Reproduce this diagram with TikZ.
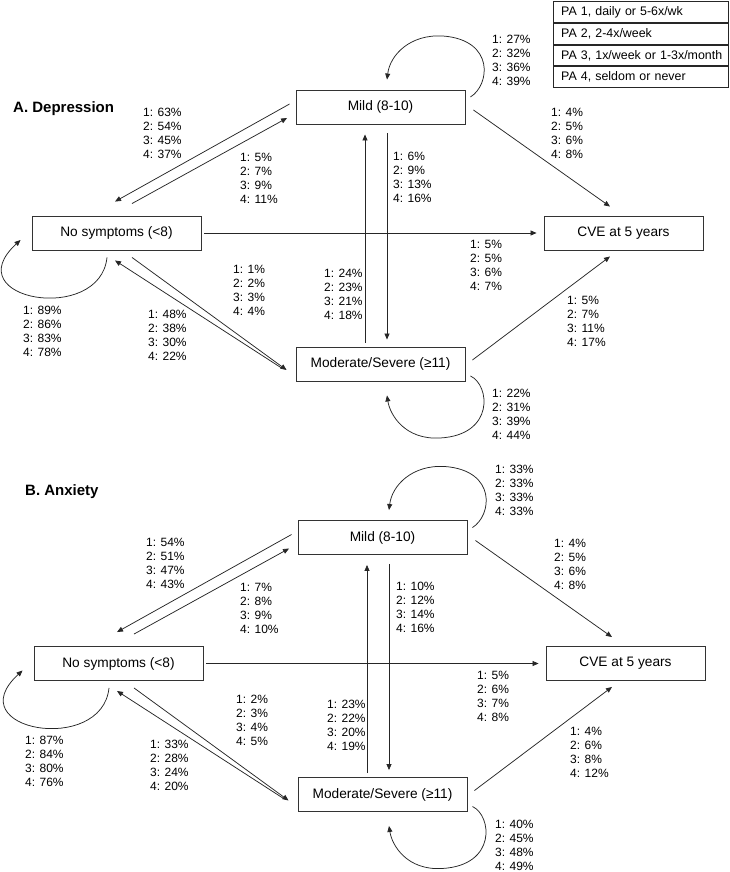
\documentclass[tikz,border=0pt]{standalone}
\usepackage{fontspec}
\setmainfont{Liberation Sans}
\usetikzlibrary{arrows.meta,calc}
\tikzset{
 box/.style={draw=black!80, line width=0.9pt, minimum width=169pt, minimum height=34pt, inner sep=0pt, font=\fontsize{13.7}{16}\selectfont},
 arr/.style={draw=black!85, line width=0.75pt, -{Triangle[length=6pt,width=5pt]}},
 lbl/.style={anchor=north west, inner sep=0pt, align=left, font=\fontsize{12}{14.2}\selectfont},
 ttl/.style={anchor=base west, inner sep=0pt, font=\fontsize{15}{18}\selectfont\bfseries},
 leg/.style={draw=black!85, line width=0.9pt, anchor=north west, minimum width=175pt, minimum height=20.9pt, text width=171pt, inner xsep=2pt, inner ysep=0pt, align=left, font=\fontsize{12.4}{14}\selectfont},
}
\newcommand\panel[1]{%
 \node[box] (m#1) at (380.5,107) {Mild (8-10)};
 \node[box] (n#1) at (116.5,233) {No symptoms (<8)};
 \node[box,minimum width=159pt] (c#1) at (623.5,233) {CVE at 5 years};
 \node[box] (s#1) at (380.5,364) {Moderate/Severe (≥11)};
 % Mild <-> No symptoms
 \draw[arr] ([shift={(-6,-3)}]m#1.west) -- ([shift={(-1.5,-14)}]n#1.north);
 \draw[arr] ([shift={(15.5,-12)}]n#1.north) -- ([shift={(-8.5,11)}]m#1.west);
 % Mild loop
 \draw[arr] ([shift={(5,-10)}]m#1.east) .. controls (490,85) and (495,40) .. (443,36) .. controls (410,34) and (390,55) .. ([shift={(6.5,-10)}]m#1.north);
 % Mild -> CVE
 \draw[arr] ([shift={(8,3)}]m#1.east) -- ([shift={(-13.5,-9)}]c#1.north);
 % Mild <-> Moderate
 \draw[arr] ([shift={(6.5,9)}]m#1.south) -- ([shift={(6.5,-7)}]s#1.north);
 \draw[arr] ([shift={(-15.5,-4)}]s#1.north) -- ([shift={(-15.5,10)}]m#1.south);
 % No symptoms -> CVE
 \draw[arr] ([shift={(3,0)}]n#1.east) -- ([shift={(-7,0)}]c#1.west);
 % No symptoms <-> Moderate
 \draw[arr] ([shift={(15.5,7)}]n#1.south) -- ([shift={(-9,6)}]s#1.west);
 \draw[arr] ([shift={(-14,4)}]s#1.west) -- ([shift={(-1.5,10)}]n#1.south);
 % No symptoms loop
 \draw[arr] ([shift={(-9.5,7)}]n#1.south) .. controls (100,325) and (-45,300) .. ([shift={(-11,7)}]n#1.west);
 % Moderate -> CVE
 \draw[arr] ([shift={(7,-4)}]s#1.east) -- ([shift={(-13.5,6)}]c#1.south);
 % Moderate loop
 \draw[arr] ([shift={(5,12)}]s#1.east) .. controls (490,385) and (495,435) .. (440,438) .. controls (405,440) and (390,415) .. ([shift={(6.5,14)}]s#1.south);
}
\newcommand\lab[7]{\node[lbl] (#1) at (#2,#3-4.4) {1: #4\%\\2: #5\%\\3: #6\%\\4: #7\%};}
\begin{document}
\begin{tikzpicture}[x=1pt,y=-1pt]
\useasboundingbox (0,0) rectangle (729,872);
% legend
\node[leg] (p1) at (552.7,1) {\hspace*{6pt}PA 1, daily or 5-6x/wk};
\node[leg] (p2) at (p1.south west) {\hspace*{6pt}PA 2, 2-4x/week};
\node[leg] (p3) at (p2.south west) {\hspace*{6pt}PA 3, 1x/week or 1-3x/month};
\node[leg] (p4) at (p3.south west) {\hspace*{6pt}PA 4, seldom or never};
% panel A
\node[ttl] (tA) at (13,112.4) {A. Depression};
\begin{scope}
\panel{A}
\end{scope}
\lab{a1}{492}{39}{27}{32}{36}{39}
\lab{a2}{143}{112}{63}{54}{45}{37}
\lab{a3}{240}{157}{5}{7}{9}{11}
\lab{a4}{551}{112}{4}{5}{6}{8}
\lab{a5}{393}{156}{6}{9}{13}{16}
\lab{a6}{470}{244}{5}{5}{6}{7}
\lab{a7}{567}{300}{5}{7}{11}{17}
\lab{a8}{324}{273}{24}{23}{21}{18}
\lab{a9}{233}{269}{1}{2}{3}{4}
\lab{a10}{23}{310}{89}{86}{83}{78}
\lab{a11}{148}{314}{48}{38}{30}{22}
\lab{a12}{492}{393}{22}{31}{39}{44}
% panel B
\node[ttl] (tB) at (25,495.4) {B. Anxiety};
\begin{scope}[shift={(2,430.5)}]
\panel{B}
\end{scope}
\lab{b1}{495}{469}{33}{33}{33}{33}
\lab{b2}{146}{542}{54}{51}{47}{43}
\lab{b3}{240}{587}{7}{8}{9}{10}
\lab{b4}{554}{543}{4}{5}{6}{8}
\lab{b5}{396}{586}{10}{12}{14}{16}
\lab{b6}{477}{675}{5}{6}{7}{8}
\lab{b7}{570}{731}{4}{6}{8}{12}
\lab{b8}{327}{704}{23}{22}{20}{19}
\lab{b9}{236}{699}{2}{3}{4}{5}
\lab{b10}{25}{740}{87}{84}{80}{76}
\lab{b11}{150}{744}{33}{28}{24}{20}
\lab{b12}{495}{824}{40}{45}{48}{49}
\end{tikzpicture}
\end{document}
